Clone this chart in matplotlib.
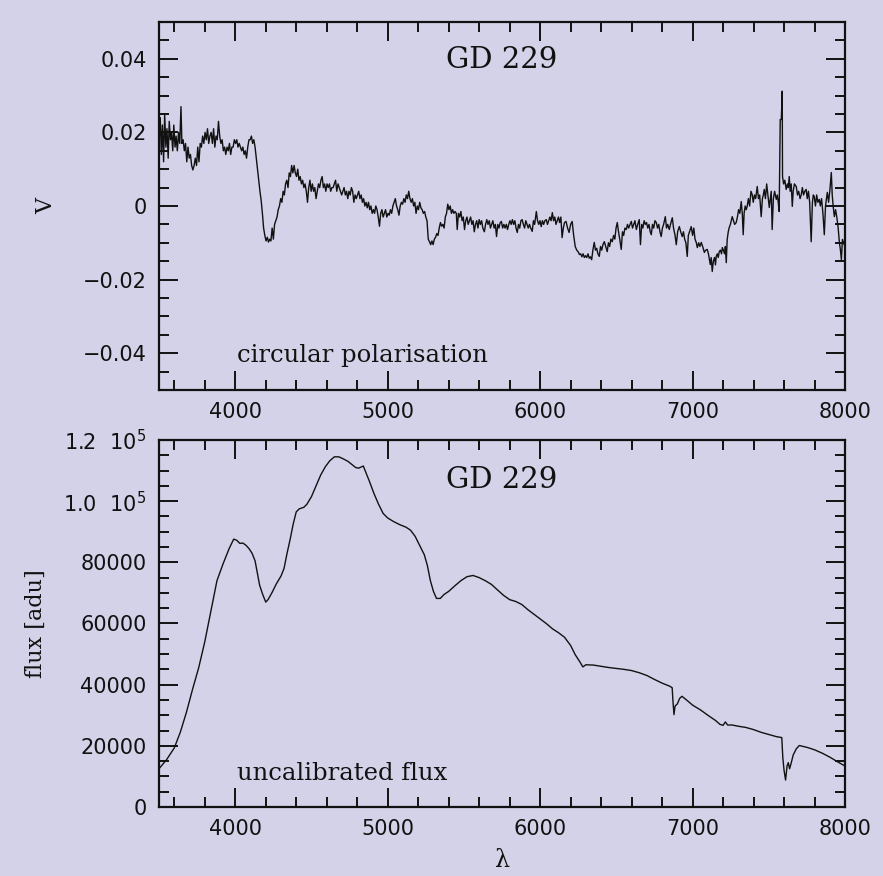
import numpy as np
import matplotlib
matplotlib.use("Agg")
import matplotlib.pyplot as plt
from matplotlib.ticker import MultipleLocator, FixedLocator, FixedFormatter

# ---- circular polarisation V(lambda) ----
wave_v = [
    3500, 3508, 3515, 3522, 3530, 3537, 3545, 3552, 3560, 3567, 3575, 3582, 3590, 3597, 3605, 3612,
    3620, 3628, 3636, 3644, 3650, 3658, 3666, 3674, 3682, 3690, 3698, 3706, 3714, 3722, 3730, 3738,
    3746, 3754, 3762, 3770, 3778, 3786, 3794, 3802, 3810, 3818, 3826, 3834, 3842, 3850, 3858, 3866,
    3874, 3882, 3890, 3898, 3906, 3914, 3922, 3930, 3938, 3946, 3954, 3962, 3970, 3978, 3986, 3994,
    4002, 4010, 4018, 4026, 4034, 4042, 4050, 4058, 4066, 4074, 4082, 4090, 4098, 4106, 4114, 4122,
    4130, 4138, 4146, 4154, 4162, 4170, 4178, 4186, 4194, 4202, 4210, 4218, 4226, 4234, 4242, 4250,
    4258, 4266, 4274, 4282, 4290, 4298, 4306, 4314, 4322, 4330, 4338, 4346, 4354, 4362, 4370, 4378,
    4386, 4394, 4402, 4410, 4418, 4426, 4434, 4442, 4450, 4458, 4466, 4474, 4482, 4490, 4498, 4506,
    4514, 4522, 4530, 4538, 4546, 4554, 4562, 4570, 4578, 4586, 4594, 4602, 4610, 4618, 4626, 4634,
    4642, 4650, 4658, 4666, 4674, 4682, 4690, 4698, 4706, 4714, 4722, 4730, 4738, 4746, 4754, 4762,
    4770, 4778, 4786, 4794, 4802, 4810, 4818, 4826, 4834, 4842, 4850, 4858, 4866, 4874, 4882, 4890,
    4898, 4906, 4914, 4922, 4930, 4938, 4946, 4954, 4962, 4970, 4978, 4986, 4994, 5002, 5010, 5018,
    5026, 5034, 5042, 5050, 5058, 5066, 5074, 5082, 5090, 5098, 5106, 5114, 5122, 5130, 5138, 5146,
    5154, 5162, 5170, 5178, 5186, 5194, 5202, 5210, 5218, 5226, 5234, 5242, 5250, 5258, 5266, 5274,
    5282, 5290, 5298, 5306, 5314, 5322, 5330, 5338, 5346, 5354, 5362, 5370, 5378, 5386, 5394, 5402,
    5410, 5418, 5426, 5434, 5442, 5450, 5456, 5464, 5472, 5480, 5488, 5496, 5504, 5512, 5520, 5528,
    5536, 5544, 5552, 5560, 5568, 5576, 5584, 5592, 5600, 5608, 5616, 5624, 5634, 5642, 5650, 5658,
    5666, 5674, 5682, 5690, 5698, 5706, 5714, 5722, 5730, 5738, 5746, 5754, 5762, 5770, 5778, 5786,
    5794, 5802, 5810, 5818, 5826, 5834, 5842, 5850, 5858, 5866, 5874, 5882, 5890, 5898, 5906, 5914,
    5922, 5930, 5938, 5948, 5956, 5964, 5975, 5983, 5991, 5999, 6007, 6015, 6023, 6031, 6040, 6048,
    6056, 6064, 6072, 6080, 6088, 6096, 6104, 6112, 6120, 6128, 6136, 6144, 6152, 6160, 6170, 6180,
    6190, 6200, 6210, 6220, 6230, 6240, 6250, 6258, 6266, 6274, 6282, 6290, 6298, 6306, 6314, 6322,
    6330, 6338, 6346, 6355, 6363, 6371, 6379, 6388, 6396, 6404, 6412, 6421, 6430, 6440, 6448, 6456,
    6464, 6473, 6482, 6490, 6498, 6506, 6514, 6522, 6532, 6540, 6548, 6556, 6565, 6573, 6581, 6590,
    6598, 6606, 6614, 6622, 6631, 6640, 6650, 6658, 6666, 6674, 6682, 6690, 6698, 6706, 6714, 6722,
    6729, 6737, 6745, 6753, 6762, 6770, 6778, 6786, 6794, 6802, 6810, 6821, 6829, 6837, 6847, 6855,
    6867, 6875, 6885, 6893, 6902, 6913, 6922, 6932, 6940, 6948, 6956, 6965, 6972, 6980, 6991, 7000,
    7008, 7016, 7024, 7031, 7040, 7048, 7057, 7066, 7077, 7086, 7096, 7104, 7110, 7116, 7122, 7129,
    7136, 7144, 7150, 7155, 7162, 7168, 7175, 7182, 7190, 7195, 7202, 7210, 7215, 7221, 7227, 7234,
    7240, 7248, 7254, 7260, 7268, 7276, 7286, 7294, 7302, 7310, 7319, 7326, 7332, 7338, 7345, 7352,
    7358, 7366, 7374, 7383, 7391, 7398, 7406, 7414, 7424, 7432, 7440, 7450, 7458, 7464, 7470, 7478,
    7486, 7494, 7503, 7510, 7516, 7522, 7530, 7538, 7549, 7556, 7562, 7568, 7575, 7582, 7588, 7590,
    7597, 7605, 7614, 7622, 7628, 7634, 7640, 7647, 7654, 7660, 7668, 7680, 7688, 7696, 7705, 7713,
    7720, 7728, 7736, 7745, 7752, 7760, 7768, 7778, 7786, 7792, 7798, 7806, 7814, 7822, 7831, 7838,
    7846, 7855, 7864, 7872, 7878, 7884, 7892, 7900, 7910, 7916, 7922, 7930, 7938, 7946, 7955, 7963,
    7970, 7976, 7983, 7990, 8000,
]

stokes_v = [
    0.017, 0.024, 0.014, 0.022, 0.012, 0.025, 0.016, 0.021, 0.013, 0.023, 0.018, 0.020, 0.015, 0.022, 0.016, 0.019,
    0.015, 0.020, 0.017, 0.027, 0.017, 0.018, 0.015, 0.017, 0.012, 0.016, 0.013, 0.014, 0.011, 0.0098, 0.011, 0.013,
    0.011, 0.016, 0.012, 0.017, 0.016, 0.019, 0.017, 0.020, 0.018, 0.021, 0.017, 0.019, 0.020, 0.017, 0.021, 0.016,
    0.019, 0.018, 0.023, 0.019, 0.017, 0.018, 0.015, 0.016, 0.014, 0.016, 0.015, 0.017, 0.014, 0.016, 0.016, 0.018,
    0.017, 0.018, 0.016, 0.017, 0.016, 0.015, 0.016, 0.014, 0.015, 0.013, 0.016, 0.018, 0.018, 0.019, 0.017, 0.018,
    0.016, 0.013, 0.010, 0.007, 0.004, 0.0015, -0.002, -0.006, -0.008, -0.0095, -0.0085, -0.0098, -0.009, -0.0095, -0.006, -0.009,
    -0.005, -0.004, -0.003, -0.001, 0.000, 0.002, 0.001, 0.004, 0.003, 0.006, 0.007, 0.005, 0.009, 0.008, 0.011, 0.009,
    0.011, 0.009, 0.008, 0.010, 0.007, 0.008, 0.006, 0.007, 0.005, 0.006, 0.004, 0.001, 0.005, 0.007, 0.004, 0.006,
    0.004, 0.005, 0.002, 0.004, 0.006, 0.005, 0.007, 0.008, 0.005, 0.006, 0.004, 0.006, 0.005, 0.006, 0.004, 0.005,
    0.005, 0.006, 0.007, 0.004, 0.006, 0.005, 0.004, 0.003, 0.004, 0.005, 0.003, 0.004, 0.002, 0.004, 0.003, 0.005,
    0.004, 0.001, 0.003, 0.002, 0.003, 0.004, 0.002, 0.003, 0.001, 0.002, 0.000, 0.001, -0.0005, 0.001, -0.001, 0.000,
    -0.002, -0.001, -0.002, 0.000, -0.001, -0.003, -0.0055, -0.002, -0.001, -0.003, -0.002, -0.001, -0.003, -0.002, -0.0025, -0.001,
    -0.002, 0.000, 0.001, 0.002, 0.000, -0.001, -0.0025, 0.000, 0.001, 0.0005, 0.002, 0.001, 0.003, 0.002, 0.004, 0.002,
    0.001, 0.002, 0.000, 0.001, -0.002, 0.000, -0.001, 0.001, -0.0005, -0.001, -0.002, -0.0015, -0.003, -0.004, -0.009, -0.0097,
    -0.0105, -0.0095, -0.0105, -0.009, -0.0085, -0.0075, -0.008, -0.006, -0.0045, -0.0055, -0.005, -0.006, -0.003, -0.002, 0.0005, -0.001,
    0.000, -0.002, -0.001, -0.002, -0.0015, -0.002, -0.0064, -0.002, -0.003, -0.0015, -0.004, -0.003, -0.0064, -0.004, -0.003, -0.005,
    -0.004, -0.003, -0.005, -0.004, -0.007, -0.005, -0.004, -0.006, -0.0037, -0.005, -0.004, -0.006, -0.007, -0.005, -0.0037, -0.005,
    -0.004, -0.006, -0.005, -0.004, -0.006, -0.005, -0.0083, -0.005, -0.006, -0.0045, -0.0042, -0.006, -0.005, -0.006, -0.005, -0.0064,
    -0.005, -0.004, -0.005, -0.0037, -0.005, -0.004, -0.006, -0.0072, -0.005, -0.006, -0.004, -0.0037, -0.005, -0.006, -0.004, -0.005,
    -0.006, -0.005, -0.006, -0.0069, -0.004, -0.005, -0.0015, -0.004, -0.005, -0.004, -0.0056, -0.004, -0.005, -0.004, -0.0037, -0.005,
    -0.004, -0.003, -0.004, -0.0018, -0.004, -0.003, -0.005, -0.004, -0.003, -0.0045, -0.003, -0.0086, -0.006, -0.0045, -0.0042, -0.006,
    -0.0072, -0.005, -0.0042, -0.008, -0.011, -0.012, -0.0125, -0.0132, -0.013, -0.0138, -0.013, -0.014, -0.0135, -0.014, -0.013, -0.0142,
    -0.0138, -0.0146, -0.012, -0.0099, -0.012, -0.0115, -0.013, -0.0137, -0.011, -0.012, -0.0105, -0.0097, -0.011, -0.0124, -0.010, -0.011,
    -0.009, -0.0097, -0.008, -0.009, -0.006, -0.0045, -0.007, -0.009, -0.0118, -0.007, -0.008, -0.006, -0.0064, -0.005, -0.006, -0.005,
    -0.0042, -0.006, -0.005, -0.004, -0.0064, -0.005, -0.0037, -0.0105, -0.005, -0.006, -0.004, -0.005, -0.0045, -0.006, -0.005, -0.007,
    -0.0078, -0.005, -0.006, -0.004, -0.0045, -0.006, -0.005, -0.007, -0.0083, -0.006, -0.005, -0.0029, -0.006, -0.005, -0.0064, -0.005,
    -0.0032, -0.006, -0.008, -0.0105, -0.007, -0.0056, -0.007, -0.0083, -0.007, -0.009, -0.010, -0.0137, -0.008, -0.007, -0.0056, -0.008,
    -0.006, -0.009, -0.0099, -0.0113, -0.010, -0.011, -0.0099, -0.011, -0.0126, -0.012, -0.0118, -0.013, -0.0145, -0.0159, -0.014, -0.0178,
    -0.015, -0.014, -0.016, -0.0137, -0.013, -0.014, -0.0124, -0.012, -0.013, -0.0113, -0.012, -0.013, -0.011, -0.0154, -0.0091, -0.007,
    -0.0059, -0.005, -0.004, -0.0029, -0.004, -0.005, -0.0045, -0.003, -0.001, -0.002, 0.0012, -0.002, -0.0078, -0.002, 0.000, -0.001,
    -0.0001, 0.002, 0.000, 0.004, 0.0031, 0.001, 0.003, 0.002, 0.0053, 0.002, 0.003, -0.0029, 0.002, 0.003, 0.0045, 0.002,
    0.006, 0.003, -0.0004, 0.002, 0.004, -0.0064, 0.002, 0.004, 0.0018, 0.003, 0.001, -0.0015, 0.0235, 0.0235, 0.0312, 0.008,
    0.006, 0.007, 0.0045, 0.006, 0.005, 0.008, 0.004, 0.006, -0.0001, 0.004, 0.006, 0.0053, 0.003, 0.004, 0.002, 0.0031,
    0.005, 0.003, 0.004, 0.0045, 0.002, 0.004, 0.001, -0.0097, 0.001, 0.003, 0.0026, 0.000, 0.003, 0.001, 0.0018, 0.000,
    0.002, -0.002, -0.0078, 0.000, 0.002, 0.0037, 0.001, 0.004, 0.0091, 0.003, 0.000, -0.0029, -0.001, -0.003, -0.006, -0.0099,
    -0.012, -0.0146, -0.0091, -0.010, -0.011,
]

# ---- uncalibrated flux ----
wave_f = [
    3500, 3550, 3600, 3640, 3680, 3720, 3760, 3800, 3840, 3880, 3920, 3960, 3990, 4010, 4030, 4050,
    4070, 4090, 4110, 4130, 4145, 4160, 4180, 4200, 4215, 4240, 4270, 4300, 4320, 4340, 4360, 4380,
    4400, 4420, 4450, 4470, 4500, 4530, 4560, 4590, 4620, 4650, 4680, 4710, 4740, 4770, 4790, 4810,
    4840, 4860, 4880, 4910, 4940, 4970, 5000, 5040, 5080, 5120, 5150, 5180, 5210, 5240, 5260, 5280,
    5300, 5320, 5345, 5370, 5400, 5440, 5480, 5520, 5560, 5600, 5640, 5680, 5720, 5760, 5800, 5840,
    5880, 5920, 5960, 6000, 6040, 6080, 6120, 6160, 6200, 6230, 6260, 6280, 6300, 6350, 6400, 6450,
    6500, 6550, 6600, 6650, 6700, 6750, 6800, 6850, 6866, 6872, 6878, 6885, 6900, 6915, 6930, 6960,
    7000, 7050, 7100, 7150, 7180, 7200, 7215, 7230, 7260, 7300, 7350, 7400, 7450, 7500, 7550, 7585,
    7592, 7600, 7610, 7620, 7628, 7636, 7645, 7660, 7680, 7700, 7750, 7800, 7850, 7900, 7950, 8000,
]

flux = [
    12500, 15500, 19300, 24500, 31000, 38500, 45500, 54000, 64000, 74000, 79500, 84500, 87600, 87200, 86200, 86300,
    85600, 84500, 83000, 80500, 76500, 72500, 69500, 67000, 67800, 70000, 73000, 75500, 78000, 83000, 87500, 92500,
    96500, 97500, 98000, 99000, 101500, 105000, 108500, 111200, 113200, 114500, 114500, 113800, 113000, 111800, 111000, 110800,
    111500, 109000, 106500, 102500, 99000, 96000, 94500, 93300, 92300, 91500, 90500, 88500, 85500, 82500, 79000, 74000,
    70500, 68200, 68200, 69500, 70500, 72300, 74000, 75300, 75700, 75000, 74000, 72800, 71000, 69200, 67800, 67200,
    66200, 64500, 63000, 61500, 60000, 58300, 57000, 55500, 52800, 49800, 47500, 45800, 46500, 46400, 46000, 45600,
    45300, 45000, 44600, 43900, 43000, 41700, 40500, 39500, 39000, 34000, 30200, 33000, 33700, 35500, 36200, 35000,
    33300, 31800, 30000, 28300, 27000, 26700, 27800, 26800, 26800, 26400, 26000, 25300, 24400, 23700, 23000, 22700,
    16000, 12000, 8800, 13500, 14500, 12500, 14000, 17000, 19000, 20100, 19500, 18700, 17600, 16300, 14800, 13400,
]

x_ticks = [4000, 5000, 6000, 7000, 8000]
v_ticks = [-0.04, -0.02, 0.0, 0.02, 0.04]
v_tick_labels = ["\u22120.04", "\u22120.02", "0", "0.02", "0.04"]
f_ticks = [0, 20000, 40000, 60000, 80000, 100000, 120000]
f_tick_labels = ["0", "20000", "40000", "60000", "80000", r"1.0  10$^5$", r"1.2  10$^5$"]

BG = "#d4d2e8"
INK = "#111111"
SERIF = ["DejaVu Serif"]
SANS = ["DejaVu Sans"]

plt.rcParams["mathtext.fontset"] = "dejavusans"

fig = plt.figure(figsize=(8.83, 8.76), dpi=100, facecolor=BG)
ax_v = fig.add_axes([0.1801, 0.5548, 0.7769, 0.4201])
ax_f = fig.add_axes([0.1801, 0.0788, 0.7769, 0.4189])


def style_axis(ax, xminor, yminor):
    ax.set_facecolor(BG)
    for sp in ax.spines.values():
        sp.set_linewidth(1.6)
        sp.set_color(INK)
    ax.xaxis.set_major_locator(FixedLocator(x_ticks))
    ax.xaxis.set_minor_locator(MultipleLocator(xminor))
    ax.yaxis.set_minor_locator(MultipleLocator(yminor))
    ax.tick_params(which="both", direction="in", top=True, right=True,
                   color=INK, width=1.4)
    ax.tick_params(which="major", length=14, pad=9, labelsize=15,
                   labelcolor=INK)
    ax.tick_params(which="minor", length=7)
    for lab in ax.get_xticklabels() + ax.get_yticklabels():
        lab.set_family(SANS)


# Polarisation panel
ax_v.plot(wave_v, stokes_v, color=INK, lw=1.0)
ax_v.set_xlim(3500, 8000)
ax_v.set_ylim(-0.05, 0.05)
ax_v.yaxis.set_major_locator(FixedLocator(v_ticks))
ax_v.yaxis.set_major_formatter(FixedFormatter(v_tick_labels))
ax_v.xaxis.set_major_formatter(FixedFormatter([str(t) for t in x_ticks]))
style_axis(ax_v, 200, 0.005)
ax_v.set_ylabel("V", family=SERIF, fontsize=16, color=INK, labelpad=18)
ax_v.text(0.5, 0.897, "GD 229", transform=ax_v.transAxes, ha="center",
          va="center", family=SERIF, fontsize=21, color=INK)
ax_v.text(0.114, 0.095, "circular polarisation", transform=ax_v.transAxes,
          ha="left", va="center", family=SERIF, fontsize=17.5, color=INK)

# Flux panel
ax_f.plot(wave_f, flux, color=INK, lw=1.0)
ax_f.set_xlim(3500, 8000)
ax_f.set_ylim(0, 120000)
ax_f.yaxis.set_major_locator(FixedLocator(f_ticks))
ax_f.yaxis.set_major_formatter(FixedFormatter(f_tick_labels))
ax_f.xaxis.set_major_formatter(FixedFormatter([str(t) for t in x_ticks]))
style_axis(ax_f, 200, 5000)
ax_f.set_ylabel("flux [adu]", family=SERIF, fontsize=16, color=INK, labelpad=12)
ax_f.set_xlabel("\u03bb", family=SERIF, fontsize=17, color=INK, labelpad=7)
ax_f.text(0.5, 0.891, "GD 229", transform=ax_f.transAxes, ha="center",
          va="center", family=SERIF, fontsize=21, color=INK)
ax_f.text(0.114, 0.092, "uncalibrated flux", transform=ax_f.transAxes,
          ha="left", va="center", family=SERIF, fontsize=17.5, color=INK)

fig.savefig("out.png", dpi=100, facecolor=BG)
